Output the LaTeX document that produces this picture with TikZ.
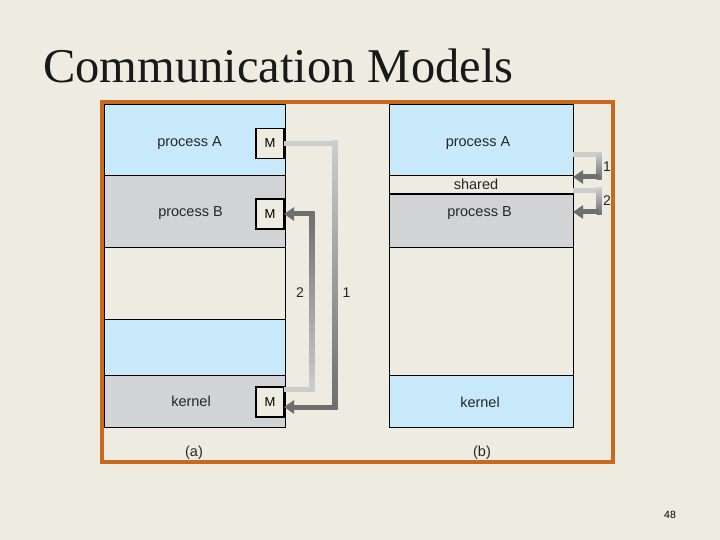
\documentclass[tikz,border=0pt]{standalone}
\usepackage{fontspec}
\newfontfamily\sansf{Liberation Sans}
\newfontfamily\seriff{Liberation Serif}
\usetikzlibrary{arrows.meta}
\definecolor{bg}{RGB}{238,235,224}
\definecolor{blueA}{RGB}{200,233,250}
\definecolor{greyA}{RGB}{210,211,213}
\definecolor{frameC}{RGB}{200,105,30}
\definecolor{ltarr}{RGB}{205,205,205}
\definecolor{dkarr}{RGB}{110,110,110}
\begin{document}
\begin{tikzpicture}[x=1pt,y=-1pt,
  rowbox/.style={draw=black, line width=0.7pt, inner sep=0pt, outer sep=0pt},
  lab/.style={font=\sansf\fontsize{14.5}{14.5}\selectfont, inner sep=0pt, text=black!85},
  small/.style={font=\sansf\fontsize{14}{14}\selectfont, inner sep=0pt, text=black!85},
  mbox/.style={draw=black, line width=1.6pt, fill=bg, minimum width=28pt, minimum height=30pt, inner sep=0pt, outer sep=0pt, font=\sansf\fontsize{13}{13}\selectfont},
  shaft/.style={line width=5pt},
  tip/.style={-{Triangle[width=13pt,length=10pt]}}]
\fill[bg] (0,0) rectangle (720,540);
\useasboundingbox (0,0) rectangle (720,540);

% title
\node[anchor=base west, inner sep=0pt, text=black!90, font=\seriff\fontsize{48.5}{48.5}\selectfont] (title) at (43,83) {Communication Models};

% column (a)
\node[rowbox, fill=blueA, minimum width=181pt, minimum height=71pt] (aA) at (194.5,139.5) {};
\node[rowbox, fill=greyA, minimum width=181pt, minimum height=72pt] (aB) at (194.5,211) {};
\node[rowbox, fill=bg, minimum width=181pt, minimum height=72pt] (aE) at (194.5,283) {};
\node[rowbox, fill=blueA, minimum width=181pt, minimum height=56pt] (aU) at (194.5,347) {};
\node[rowbox, fill=greyA, minimum width=181pt, minimum height=52pt] (aK) at (194.5,401) {};
\node[lab] (tA) at (189.5,143.5) {process A};
\node[lab] (tB) at (190.5,213.5) {process B};
\node[lab] (tK) at (191,401.5) {kernel};
\node[mbox] (MA) at (270,143.5) {M};
\node[mbox] (MB) at (270,214) {M};
\node[mbox] (MK) at (270,402) {M};

% column (b)
\node[rowbox, fill=blueA, minimum width=184pt, minimum height=71pt] (bA) at (481,139.5) {};
\node[rowbox, fill=bg, minimum width=184pt, minimum height=19pt] (bS) at (481,184.5) {};
\node[rowbox, fill=greyA, minimum width=184pt, minimum height=53pt] (bB) at (481,220.5) {};
\node[rowbox, fill=bg, minimum width=184pt, minimum height=128pt] (bE) at (481,311) {};
\node[rowbox, fill=blueA, minimum width=184pt, minimum height=52pt] (bK) at (481,401) {};
\draw[line width=1.8pt] (bS.south west) -- (bS.south east);
\node[lab] (uA) at (478,143.5) {process A};
\node[lab] (uS) at (476,184) {shared};
\node[lab] (uB) at (479.5,213.5) {process B};
\node[lab] (uK) at (480,402) {kernel};

% left arrow 1: M(A) -> M(kernel)
\coordinate (a1t) at (335,143.5);
\coordinate (a1b) at (335,407);
\draw[shaft, ltarr] (MA.east) -- (a1t);
\shade[top color=ltarr, bottom color=dkarr] (332.5,141) rectangle (337.5,409.5);
\draw[shaft, dkarr, tip] (a1b) -- (MK.east |- a1b);

% left arrow 2: M(kernel) -> M(B)
\coordinate (a2b) at (312,389);
\coordinate (a2t) at (312,214);
\draw[shaft, ltarr] (MK.east |- a2b) -- (a2b);
\shade[top color=dkarr, bottom color=ltarr] (309.5,211.5) rectangle (314.5,391.5);
\draw[shaft, dkarr, tip] (a2t) -- (MB.east);

\node[small] (n2a) at (300,293) {2};
\node[small] (n1a) at (346.5,293) {1};

% right arrow 1: process A -> shared
\coordinate (r1t) at (599,155);
\coordinate (r1b) at (599,177);
\draw[shaft, ltarr] (bA.east |- r1t) -- (r1t);
\shade[top color=ltarr, bottom color=dkarr] (596.5,152.5) rectangle (601.5,179.5);
\draw[shaft, dkarr, tip] (r1b) -- (bS.east |- r1b);

% right arrow 2: shared -> process B
\coordinate (r2t) at (599,190.5);
\coordinate (r2b) at (599,212);
\draw[shaft, ltarr] (bS.east |- r2t) -- (r2t);
\shade[top color=ltarr, bottom color=dkarr] (596.5,188) rectangle (601.5,214.5);
\draw[shaft, dkarr, tip] (r2b) -- (bB.east |- r2b);

\node[small] (n1b) at (607,166.5) {1};
\node[small] (n2b) at (607,201) {2};

% frame
\draw[frameC, line width=4pt] (102,102) rectangle (613,462);

\node[lab] (capa) at (194,452.5) {(a)};
\node[lab] (capb) at (482,452.5) {(b)};

\node[font=\sansf\fontsize{10.5}{10.5}\selectfont, inner sep=0pt] (pg) at (670,515) {48};
\end{tikzpicture}
\end{document}
